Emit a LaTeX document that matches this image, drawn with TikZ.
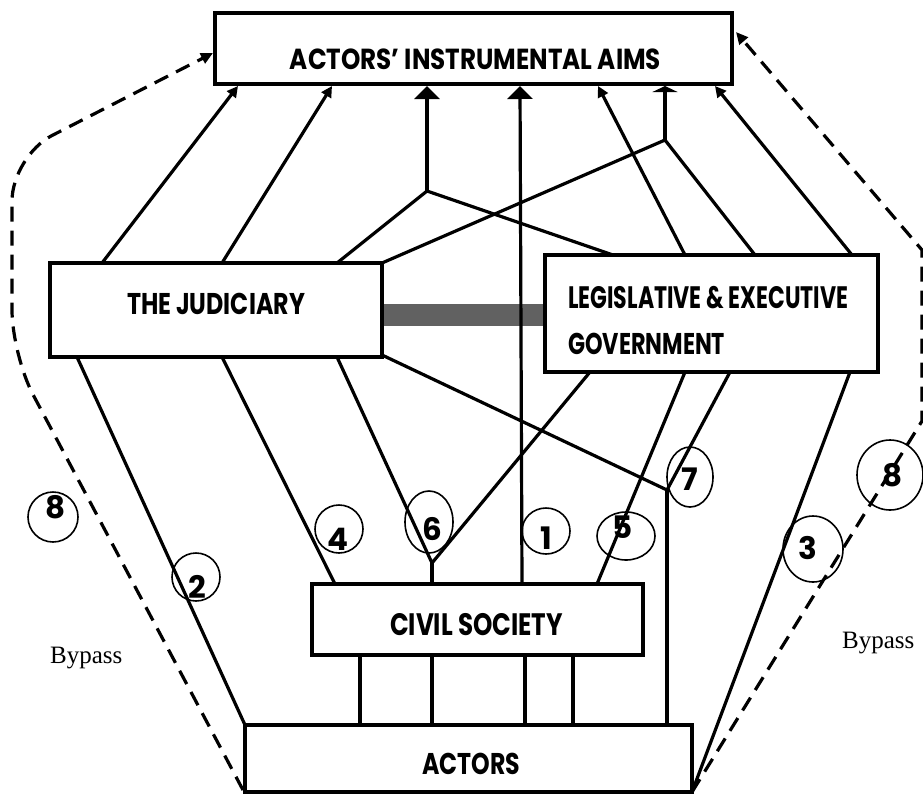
\documentclass[tikz,border=0pt]{standalone}
\usepackage{fontspec}
\setmainfont{Poppins}
\newfontfamily\bypassfont{Liberation Serif}
\usepackage{graphicx}
\usetikzlibrary{arrows.meta}
\newcommand{\fitlab}[3]{\resizebox{#1}{\height}{\fontsize{#2}{#2}\selectfont\bfseries #3}}
\newcommand{\digit}[1]{\resizebox{!}{\height}{\fontsize{31}{31}\selectfont\bfseries #1}}
\begin{document}
\begin{tikzpicture}[x=1pt,y=-1pt,
  box/.style={draw, line width=4pt, inner sep=0pt, fill=white},
  txt/.style={inner sep=0pt, anchor=center},
  conn/.style={line width=3.2pt},
  smallarr/.style={conn, -{Triangle[length=11pt,width=11pt]}},
  bigarr/.style={conn, -{Triangle[length=13pt,width=25pt]}},
  flatarr/.style={conn, -{Triangle[length=6pt,width=25pt]}},
  bypass/.style={line width=3.2pt, dash pattern=on 15pt off 9pt},
  ring/.style={draw, line width=1.6pt},
  num/.style={inner sep=0pt, anchor=center},
  bylab/.style={inner sep=0pt, anchor=base west, font=\bypassfont\fontsize{25}{25}\selectfont}]
\useasboundingbox (0,0) rectangle (923,796);
\clip (0,0) rectangle (923,796);

% junction and end points
\coordinate (J1) at (427,191);
\coordinate (J2) at (665,140);
\coordinate (J6) at (432,563);
\coordinate (J7) at (667,490);
\coordinate (t1) at (238,86);
\coordinate (t2) at (332,86);
\coordinate (t3) at (427,86);
\coordinate (t4) at (520,86);
\coordinate (t5) at (598,86);
\coordinate (t6) at (665,86);
\coordinate (t7) at (715,86);
\coordinate (jt1) at (102,263);
\coordinate (jt2) at (222,263);
\coordinate (jt3) at (337,263);
\coordinate (jt4) at (382,263);
\coordinate (jb1) at (77,357);
\coordinate (jb2) at (222,357);
\coordinate (jb3) at (337,357);
\coordinate (jb4) at (382,355);
\coordinate (lt1) at (613,255);
\coordinate (lt2) at (685,255);
\coordinate (lt3) at (755,255);
\coordinate (lt4) at (852,255);
\coordinate (lb1) at (590,372);
\coordinate (lb2) at (685,372);
\coordinate (lb3) at (730,372);
\coordinate (lb4) at (850,372);
\coordinate (ct1) at (335,584);
\coordinate (ct2) at (432,584);
\coordinate (ct3) at (522,584);
\coordinate (ct4) at (597,584);
\coordinate (cb1) at (360,655);
\coordinate (cb2) at (432,655);
\coordinate (cb3) at (525,655);
\coordinate (cb4) at (573,655);
\coordinate (at1) at (360,725);
\coordinate (at2) at (432,725);
\coordinate (at3) at (525,725);
\coordinate (at4) at (573,725);
\coordinate (at5) at (667,725);
\coordinate (aTL) at (245,725);
\coordinate (aBL) at (243,790);
\coordinate (aBR) at (692,792);
\coordinate (dL) at (213,53);
\coordinate (dR) at (736,32);

% grey link between the two branches
\fill[black!62] (382,304) rectangle (545,326);

% connectors to the aims
\draw[smallarr] (jt1) -- (t1);
\draw[smallarr] (jt2) -- (t2);
\draw[bigarr] (J1) -- (t3);
\draw[bigarr] (ct3) -- (t4);
\draw[smallarr] (lt2) -- (t5);
\draw[flatarr] (J2) -- (t6);
\draw[smallarr] (lt4) -- (t7);
\draw[conn] (jt3) -- (J1) -- (lt1);
\draw[conn] (jt4) -- (J2) -- (lt3);

% lower connectors
\draw[conn] (jb1) -- (aTL);
\draw[conn] (jb2) -- (ct1);
\draw[conn] (jb3) -- (J6) -- (lb1);
\draw[conn] (J6) -- (ct2);
\draw[conn] (jb4) -- (J7) -- (lb3);
\draw[conn] (J7) -- (at5);
\draw[conn] (lb2) -- (ct4);
\draw[conn] (lb4) -- (aBR);
\draw[conn] (cb1) -- (at1);
\draw[conn] (cb2) -- (at2);
\draw[conn] (cb3) -- (at3);
\draw[conn] (cb4) -- (at4);

% bypass routes
\draw[bypass, rounded corners=45pt, -{Triangle[length=12pt,width=11pt]}] (aBL) -- (12,355) -- (12,156) -- (dL);
\draw[bypass, -{Triangle[length=12pt,width=11pt]}] (aBR) -- (922,421) -- (922,250) -- (dR);

% boxes
\node[box, minimum width=517pt, minimum height=71pt] (aims) at (473.5,48.5) {};
\node[box, minimum width=332pt, minimum height=94pt] (jud) at (216,310) {};
\node[box, minimum width=333pt, minimum height=117pt] (leg) at (711.5,313.5) {};
\node[box, minimum width=331pt, minimum height=71pt] (civ) at (477.5,619.5) {};
\node[box, minimum width=447pt, minimum height=67pt] (act) at (468.5,758.5) {};

% box texts
\node[txt] (aimsT) at (475.5,59) {\fitlab{371pt}{29}{ACTORS' INSTRUMENTAL AIMS}};
\node[txt] (judT) at (216,304) {\fitlab{178pt}{30}{THE JUDICIARY}};
\node[txt, anchor=west] (legT1) at (568,297.5) {\fitlab{280pt}{31}{LEGISLATIVE \& EXECUTIVE}};
\node[txt, anchor=west] (legT2) at (568,344) {\fitlab{157pt}{30}{GOVERNMENT}};
\node[txt] (civT) at (476.5,625) {\fitlab{173pt}{31}{CIVIL SOCIETY}};
\node[txt] (actT) at (471,764) {\fitlab{98pt}{30}{ACTORS}};

% numbered rings
\draw[ring] (546,531) ellipse [x radius=24, y radius=23];
\node[num] (n1) at (546,538) {\digit{1}};
\draw[ring] (196,577) ellipse [x radius=24, y radius=24];
\node[num] (n2) at (197,587) {\digit{2}};
\draw[ring] (813,549) ellipse [x radius=30, y radius=33];
\node[num] (n3) at (808,548) {\digit{3}};
\draw[ring] (339,529) ellipse [x radius=24, y radius=24];
\node[num] (n4) at (338,539) {\digit{4}};
\draw[ring] (626,536) ellipse [x radius=29, y radius=24];
\node[num] (n5) at (623,527) {\digit{5}};
\draw[ring] (429,522) ellipse [x radius=24, y radius=31];
\node[num] (n6) at (432,529) {\digit{6}};
\draw[ring] (690,477) ellipse [x radius=23, y radius=30];
\node[num] (n7) at (690,479) {\digit{7}};
\draw[ring] (53,517) ellipse [x radius=25, y radius=25];
\node[num] (n8a) at (56,507) {\digit{8}};
\draw[ring] (890,475) ellipse [x radius=33, y radius=35];
\node[num] (n8b) at (893,475) {\digit{8}};

% bypass labels
\node[bylab] (byL) at (50,663) {Bypass};
\node[bylab] (byR) at (842,648) {Bypass};
\end{tikzpicture}
\end{document}
